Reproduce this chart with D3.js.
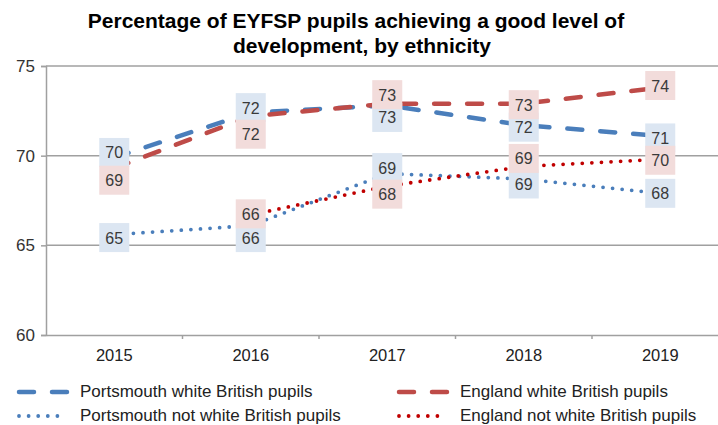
<!DOCTYPE html>
<html><head><meta charset="utf-8">
<script src="https://cdnjs.cloudflare.com/ajax/libs/d3/7.8.5/d3.min.js"></script>
<style>body{margin:0;background:#fff}svg{display:block}</style>
</head><body><svg id="c" width="718" height="425"></svg>
<script>
const years = ["2015","2016","2017","2018","2019"];
const yTicks = [60,65,70,75];
const seriesNames = ["Portsmouth white British pupils","England white British pupils","Portsmouth not white British pupils","England not white British pupils"];
const portsmouthWB = [69.9,72.4,72.8,71.7,71.1];
const englandWB = [69.3,72.2,72.9,72.9,73.8];
const portsmouthNWB = [65.6,66.1,69.0,68.7,67.9];
const englandNWB = [null,66.7,68.3,69.4,69.8];
const portsmouthWBLabels = ["70","72","73","72","71"];
const englandWBLabels = ["69","72","73","73","74"];
const portsmouthNWBLabels = ["65","66","69","69","68"];
const englandNWBLabels = [null,"66","68","69","70"];
// label nudges in pixels (layout)
const portsmouthWBNudge = [-5,-5,12,2,2];
const englandWBNudge = [12,18,-9,1,-2];
const portsmouthNWBNudge = [3,12,-6,5,0];
const englandNWBNudge = [0,-1,8,-8,1];

const series = [
  {name:seriesNames[0], values:portsmouthWB, labels:portsmouthWBLabels, nudge:portsmouthWBNudge, color:"#4a7ebb", box:"#dce6f2", style:"dash"},
  {name:seriesNames[1], values:englandWB, labels:englandWBLabels, nudge:englandWBNudge, color:"#be4b48", box:"#f2dcdb", style:"dash"},
  {name:seriesNames[2], values:portsmouthNWB, labels:portsmouthNWBLabels, nudge:portsmouthNWBNudge, color:"#4a7ebb", box:"#dce6f2", style:"dot"},
  {name:seriesNames[3], values:englandNWB, labels:englandNWBLabels, nudge:englandNWBNudge, color:"#c00000", box:"#f2dcdb", style:"dot"}
];

const svg = d3.select("#c");
const font = "Liberation Sans, Arial, sans-serif";
const x = d3.scaleBand().domain(years).range([46, 728.5]).paddingInner(0).paddingOuter(0);
const y = d3.scaleLinear().domain([60,75]).range([335,66]);

// title
svg.append("text").attr("x",356).attr("y",28).attr("text-anchor","middle")
  .attr("font-family",font).attr("font-weight","bold").attr("font-size",21).attr("fill","#000")
  .text("Percentage of EYFSP pupils achieving a good level of");
svg.append("text").attr("x",362).attr("y",53).attr("text-anchor","middle")
  .attr("font-family",font).attr("font-weight","bold").attr("font-size",21).attr("fill","#000")
  .text("development, by ethnicity");

// gridlines
svg.append("g").selectAll("line").data(yTicks.filter(d=>d>60)).join("line")
  .attr("x1",46).attr("x2",718).attr("y1",d=>y(d)).attr("y2",d=>y(d))
  .attr("stroke","#a0a0a0").attr("stroke-width",1.5);

// y axis
const yAxis = svg.append("g").attr("transform","translate(46,0)")
  .call(d3.axisLeft(y).tickValues(yTicks).tickSize(5).tickPadding(6));
yAxis.select(".domain").attr("stroke","#a0a0a0").attr("stroke-width",1.5);
yAxis.selectAll(".tick line").attr("stroke","#a0a0a0").attr("stroke-width",1.5);
yAxis.selectAll("text").attr("font-family",font).attr("font-size",17).attr("fill","#333");

// x axis
const xAxis = svg.append("g").attr("transform","translate(0,335)")
  .call(d3.axisBottom(x).tickSize(0).tickPadding(14));
xAxis.select(".domain").attr("stroke","#a0a0a0").attr("stroke-width",1.5);
xAxis.selectAll("text").attr("font-family",font).attr("font-size",16.5).attr("fill","#222");
svg.append("g").selectAll("line").data(years.slice(1)).join("line")
  .attr("x1",d=>x(d)).attr("x2",d=>x(d)).attr("y1",335).attr("y2",339)
  .attr("stroke","#a0a0a0").attr("stroke-width",1.5);

const cx = d => x(d) + x.bandwidth()/2;
const line = d3.line().defined(d=>d.v!=null).x(d=>cx(d.year)).y(d=>y(d.v));

function styleLine(sel, s){
  if(s.style==="dash"){
    sel.attr("stroke-width",4.5).attr("stroke-dasharray","15,18").attr("stroke-linecap","round");
  } else {
    sel.attr("stroke-width",3.8).attr("stroke-dasharray","0,9.6").attr("stroke-linecap","round");
  }
}

// lines
series.forEach(s=>{
  const pts = years.map((yr,i)=>({year:yr, v:s.values[i]}));
  const p = svg.append("path").datum(pts).attr("d",line).attr("fill","none").attr("stroke",s.color);
  styleLine(p,s);
});

// labels
series.forEach(s=>{
  const g = svg.append("g");
  years.forEach((yr,i)=>{
    if(s.values[i]==null) return;
    const cy = y(s.values[i]) + s.nudge[i];
    g.append("rect").attr("x",cx(yr)-15).attr("y",cy-14.5).attr("width",30).attr("height",29).attr("fill",s.box);
    g.append("text").attr("x",cx(yr)).attr("y",cy+6).attr("text-anchor","middle")
      .attr("font-family",font).attr("font-size",16).attr("fill","#3a3a3a").text(s.labels[i]);
  });
});

// legend
const legendPos = [[17,392],[397,392],[17,416],[397,416]];
series.forEach((s,i)=>{
  const [lx,ly] = legendPos[i];
  const l = svg.append("line").attr("x1",lx+2).attr("x2",lx+50).attr("y1",ly).attr("y2",ly).attr("stroke",s.color);
  styleLine(l,s);
  svg.append("text").attr("x",lx+63).attr("y",ly+5).attr("font-family",font).attr("font-size",17)
    .attr("fill","#222").text(s.name);
});
</script></body></html>
